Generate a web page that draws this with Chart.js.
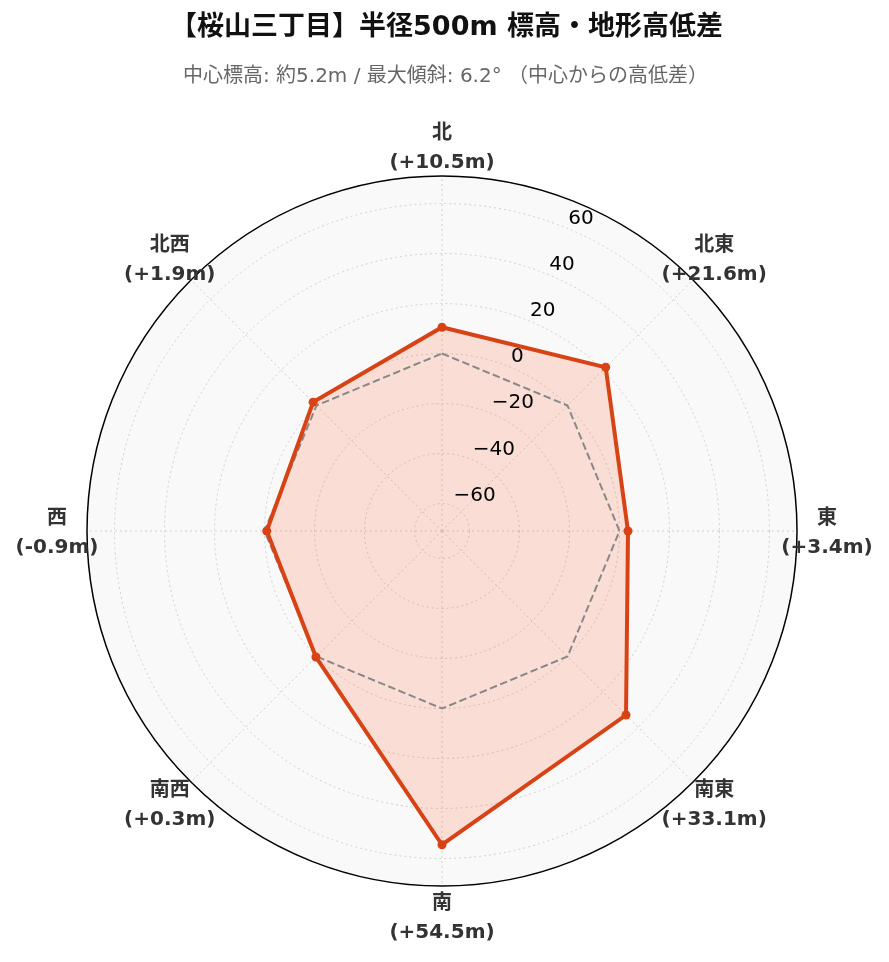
<!DOCTYPE html>
<html>
<head>
<meta charset="utf-8">
<script src="https://cdn.jsdelivr.net/npm/chart.js@4.4.1/dist/chart.umd.min.js"></script>
<style>
  html, body { margin: 0; padding: 0; background: #ffffff; }
  #wrap { width: 889px; height: 962px; position: relative; }
  canvas { display: block; }
</style>
</head>
<body>
<div id="wrap"><canvas id="c" width="889" height="962"></canvas></div>
<script>
// ---- data ----
const directions = ['北', '北東', '東', '南東', '南', '南西', '西', '北西'];
const elevationDiff = [10.5, 21.6, 3.4, 33.1, 54.5, 0.3, -0.9, 1.9];
const zeroLine = [0, 0, 0, 0, 0, 0, 0, 0];
const tickValues = [-60, -40, -20, 0, 20, 40, 60];
const titleText = '【桜山三丁目】半径500m 標高・地形高低差';
const subtitleText = '中心標高: 約5.2m / 最大傾斜: 6.2° （中心からの高低差）';

const FONT = '"DejaVu Sans", "Noto Sans CJK JP", sans-serif';
const LINE_COLOR = '#d84315';

const valueLabels = elevationDiff.map(v => '(' + (v >= 0 ? '+' : '') + v.toFixed(1) + 'm)');

const decor = {
  id: 'decor',
  beforeDraw(chart) {
    const s = chart.scales.r;
    const ctx = chart.ctx;
    ctx.save();
    ctx.beginPath();
    ctx.arc(s.xCenter, s.yCenter, s.drawingArea, 0, Math.PI * 2);
    ctx.fillStyle = '#f9f9f9';
    ctx.fill();
    ctx.restore();
  },
  afterDatasetsDraw(chart) {
    const s = chart.scales.r;
    const ctx = chart.ctx;
    ctx.save();
    // outer border
    ctx.beginPath();
    ctx.arc(s.xCenter, s.yCenter, s.drawingArea, 0, Math.PI * 2);
    ctx.strokeStyle = '#000000';
    ctx.lineWidth = 1.5;
    ctx.stroke();
    // tick labels along 22.5°
    ctx.fillStyle = '#000000';
    ctx.font = '20px ' + FONT;
    ctx.textAlign = 'left';
    ctx.textBaseline = 'bottom';
    tickValues.forEach(v => {
      const p = s.getPointPosition(0.5, s.getDistanceFromCenterForValue(v));
      const txt = v < 0 ? '\u2212' + Math.abs(v) : String(v);
      ctx.fillText(txt, p.x + 1, p.y);
    });
    // point labels
    ctx.fillStyle = '#333333';
    ctx.font = 'bold 20px ' + FONT;
    ctx.textAlign = 'center';
    ctx.textBaseline = 'middle';
    directions.forEach((d, i) => {
      const p = s.getPointPosition(i, s.drawingArea + 30);
      ctx.fillText(d, p.x, p.y - 12.5);
      ctx.fillText(valueLabels[i], p.x, p.y + 16.5);
    });
    // titles
    ctx.fillStyle = '#111111';
    ctx.font = 'bold 27px ' + FONT;
    ctx.fillText(titleText, chart.width / 2 + 2, 28);
    ctx.fillStyle = '#666666';
    ctx.font = '20px ' + FONT;
    ctx.fillText(subtitleText, chart.width / 2 + 1, 77);
    ctx.restore();
  }
};

new Chart(document.getElementById('c'), {
  type: 'radar',
  data: {
    labels: directions,
    datasets: [
      {
        label: 'fill',
        data: elevationDiff,
        fill: 'start',
        backgroundColor: 'rgba(255,87,34,0.17)',
        borderWidth: 0,
        pointRadius: 0,
        order: 3
      },
      {
        label: 'zero',
        data: zeroLine,
        fill: false,
        borderColor: '#888888',
        borderWidth: 2,
        borderDash: [7.5, 3.5],
        pointRadius: 0,
        order: 2
      },
      {
        label: '高低差',
        data: elevationDiff,
        fill: false,
        borderColor: LINE_COLOR,
        borderWidth: 4,
        pointRadius: 4.5,
        pointBackgroundColor: LINE_COLOR,
        pointBorderColor: LINE_COLOR,
        pointBorderWidth: 0,
        order: 1
      }
    ]
  },
  options: {
    responsive: false,
    animation: false,
    layout: { padding: { left: 87, right: 92, top: 176, bottom: 76 } },
    plugins: {
      legend: { display: false },
      tooltip: { enabled: false },
      title: { display: false }
    },
    elements: { line: { tension: 0 } },
    scales: {
      r: {
        min: -71,
        max: 71,
        startAngle: 0,
        afterBuildTicks(scale) {
          scale.ticks = tickValues.map(v => ({ value: v }));
        },
        ticks: { display: false },
        pointLabels: { display: false },
        grid: { circular: true, color: '#d0d0d0', lineWidth: 1 },
        border: { dash: [2, 3] },
        angleLines: { display: true, color: '#d0d0d0', lineWidth: 1, borderDash: [2, 3] }
      }
    }
  },
  plugins: [decor]
});
</script>
</body>
</html>
